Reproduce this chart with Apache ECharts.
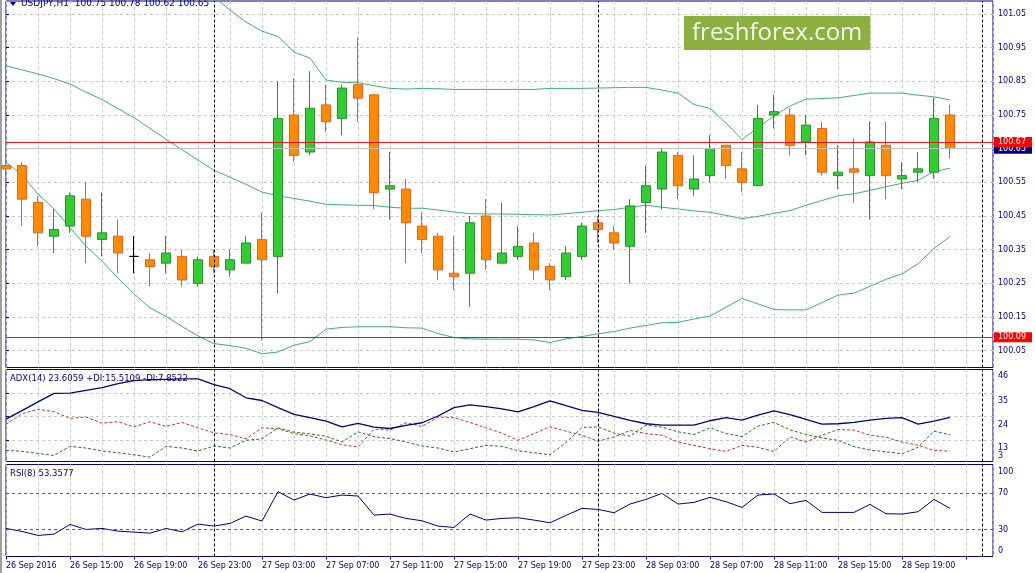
<!DOCTYPE html>
<html><head><meta charset="utf-8">
<script src="https://cdn.jsdelivr.net/npm/echarts@6/dist/echarts.min.js"></script>
<style>html,body{margin:0;padding:0;background:#fff}#c{width:1035px;height:573px}</style>
</head><body><div id="c"></div>
<script>
const symbolName = 'USDJPY,H1';
const timeLabels = ['26 Sep 2016','26 Sep 15:00','26 Sep 19:00','26 Sep 23:00','27 Sep 03:00','27 Sep 07:00','27 Sep 11:00','27 Sep 15:00','27 Sep 19:00','27 Sep 23:00','28 Sep 03:00','28 Sep 07:00','28 Sep 11:00','28 Sep 15:00','28 Sep 19:00'];
const open = [100.60,100.60,100.49,100.39,100.42,100.50,100.38,100.39,100.33,100.32,
  100.31,100.33,100.25,100.33,100.29,100.31,100.38,100.33,100.75,100.64,
  100.78,100.74,100.84,100.81,100.53,100.53,100.42,100.39,100.28,100.28,
  100.45,100.31,100.33,100.37,100.30,100.27,100.33,100.43,100.40,100.36,
  100.49,100.53,100.63,100.53,100.57,100.66,100.59,100.54,100.75,100.75,
  100.67,100.71,100.57,100.59,100.57,100.66,100.56,100.58,100.58,100.75];
const close = [100.59,100.50,100.40,100.41,100.51,100.39,100.40,100.34,100.33,100.30,
  100.34,100.26,100.32,100.30,100.32,100.37,100.32,100.74,100.63,100.77,
  100.73,100.83,100.80,100.52,100.54,100.43,100.38,100.29,100.27,100.43,
  100.32,100.34,100.36,100.29,100.26,100.34,100.42,100.41,100.37,100.48,
  100.54,100.64,100.54,100.56,100.65,100.60,100.55,100.74,100.76,100.66,
  100.72,100.58,100.58,100.58,100.67,100.57,100.57,100.59,100.74,100.65];
const high = [100.64,100.61,100.51,100.47,100.52,100.55,100.52,100.44,100.39,100.34,
  100.39,100.35,100.33,100.35,100.35,100.39,100.46,100.85,100.86,100.88,
  100.84,100.84,100.98,100.81,100.64,100.56,100.46,100.40,100.39,100.45,
  100.50,100.49,100.42,100.40,100.31,100.36,100.43,100.45,100.42,100.50,
  100.60,100.65,100.64,100.63,100.69,100.66,100.64,100.78,100.81,100.77,
  100.75,100.73,100.66,100.68,100.73,100.73,100.61,100.64,100.80,100.78];
const low = [100.53,100.42,100.36,100.34,100.40,100.31,100.33,100.28,100.28,100.24,
  100.28,100.24,100.24,100.28,100.27,100.31,100.08,100.22,100.61,100.63,
  100.70,100.69,100.73,100.47,100.44,100.31,100.34,100.26,100.23,100.18,
  100.29,100.31,100.32,100.26,100.23,100.26,100.32,100.37,100.35,100.25,
  100.40,100.47,100.50,100.51,100.55,100.56,100.52,100.54,100.71,100.63,
  100.63,100.57,100.53,100.49,100.44,100.50,100.53,100.55,100.56,100.62];
const bbUpper = [101.183,101.196,101.228,101.243,101.270,101.276,101.276,101.273,101.264,101.243,
  101.204,101.172,101.136,101.100,101.062,101.026,100.999,100.983,100.937,100.919,
  100.854,100.847,100.846,100.837,100.829,100.827,100.829,100.828,100.826,100.826,
  100.826,100.826,100.826,100.826,100.829,100.829,100.829,100.830,100.831,100.832,
  100.832,100.824,100.815,100.781,100.770,100.726,100.677,100.713,100.747,100.777,
  100.797,100.799,100.801,100.808,100.815,100.815,100.815,100.809,100.804,100.795];
const bbMiddle = [100.896,100.884,100.872,100.858,100.842,100.818,100.796,100.769,100.742,100.710,
  100.678,100.647,100.616,100.586,100.565,100.544,100.521,100.510,100.502,100.494,
  100.485,100.483,100.482,100.481,100.476,100.473,100.473,100.468,100.462,100.457,
  100.456,100.456,100.455,100.454,100.453,100.457,100.461,100.466,100.469,100.476,
  100.482,100.476,100.471,100.465,100.461,100.452,100.442,100.449,100.458,100.466,
  100.482,100.496,100.510,100.516,100.526,100.537,100.547,100.556,100.582,100.592];
const bbLower = [100.610,100.572,100.515,100.471,100.415,100.361,100.316,100.266,100.219,100.177,
  100.152,100.122,100.094,100.071,100.065,100.057,100.041,100.046,100.066,100.077,
  100.114,100.119,100.121,100.121,100.121,100.118,100.117,100.101,100.089,100.085,
  100.084,100.084,100.084,100.082,100.074,100.085,100.092,100.100,100.107,100.117,
  100.125,100.133,100.134,100.144,100.153,100.179,100.205,100.189,100.172,100.171,
  100.171,100.193,100.215,100.221,100.241,100.262,100.278,100.308,100.354,100.389];
const adx = [22.84,26.78,30.88,34.82,34.97,36.23,37.49,39.38,40.80,41.27,
  41.43,41.59,41.59,38.91,37.02,32.77,31.51,28.20,25.05,23.47,
  21.90,19.22,20.79,19.06,18.43,19.85,21.11,24.26,28.20,29.46,
  28.67,27.57,26.15,28.67,31.35,29.14,26.94,25.99,24.10,22.21,
  20.64,20.01,20.01,20.01,22.05,23.47,22.37,24.73,26.62,24.89,
  22.68,20.48,20.64,21.27,22.37,23.16,23.47,20.48,21.90,23.61];
const plusDI = [8.19,7.72,6.77,5.83,10.08,9.29,7.88,7.09,6.14,5.04,
  10.08,9.29,7.88,10.24,9.29,12.92,13.55,18.75,16.70,15.91,
  14.81,12.13,16.86,14.65,13.71,12.13,10.24,9.29,7.40,8.98,
  10.56,10.08,8.03,7.09,6.14,11.82,18.90,19.22,16.23,14.81,
  20.01,19.06,16.86,15.60,18.75,16.07,14.65,19.54,21.27,17.80,
  15.60,14.02,12.92,9.93,8.35,7.56,6.62,9.61,17.17,15.51];
const minusDI = [20.32,25.36,27.41,26.31,23.16,23.79,20.95,21.58,19.22,21.58,
  19.38,21.27,18.75,16.38,15.60,13.55,18.75,18.27,16.07,14.97,
  13.08,10.87,9.77,18.12,17.64,21.11,19.38,23.79,23.47,21.27,
  18.75,16.23,12.92,16.07,19.22,17.17,15.28,12.45,14.50,17.49,
  16.07,15.28,12.13,10.56,8.98,7.72,10.56,9.61,7.72,14.50,
  12.13,15.28,17.96,17.64,15.28,14.34,12.13,10.56,8.19,7.85];
const rsi = [31.11,27.78,23.34,24.82,35.56,30.00,31.11,28.15,27.04,25.93,
  31.11,27.41,35.93,33.71,36.67,44.82,39.26,71.85,62.60,69.26,
  65.19,68.15,67.04,45.93,47.04,42.23,39.63,33.71,32.23,47.04,
  40.37,42.23,42.97,40.37,37.41,45.55,53.34,52.23,48.52,58.15,
  63.34,70.00,58.15,60.00,65.56,60.74,54.45,68.15,69.26,58.52,
  62.23,48.89,48.89,48.89,57.78,47.41,47.04,49.63,63.34,53.36];
const priceTicks = [100.05,100.15,100.25,100.35,100.45,100.55,100.65,100.75,100.85,100.95,101.05];
const adxTicksUpper = [13,24,35,46];
const adxTicksLower = [3];
const adxGrid = [13,24,35];
const rsiTicks = [0,30,70,100];
const rsiLevels = [30,70];
const supportLevel = 100.09;
const resistanceLevel = 100.67;
const lastPrice = 100.65;
const daySeparators = [13,37,61];
const adxText = 'ADX(14) 23.6059 +DI:15.5109 -DI:7.8522';
const rsiText = 'RSI(8) 53.3577';
const watermark = 'freshforex.com';

const N = open.length;
const idx = open.map((_, i) => i);
const L = N - 1;
const candleData = idx.map(i => {
  const item = { value: [i, open[i], close[i], low[i], high[i]] };
  if (open[i] === close[i]) item.itemStyle = { borderColor: '#000000', borderColor0: '#000000', borderColorDoji: '#000000' };
  return item;
});
const pair = arr => idx.map(i => [i, arr[i]]);
const XMAX = 61.6875;
const font = 'DejaVu Sans';
const navy = '#000080';
const levelRed = '#e8141b';
const gridLine = { color: '#c8c8c8', type: [3, 3], width: 1 };
const sepLines = daySeparators.map(v => ({ xAxis: v, lineStyle: { color: '#000040', type: [3, 2], width: 1 }, label: { show: false } }));
const lbl = { fontSize: 8, fontFamily: font, color: navy };

function xAxisFor(gi, showLabels) {
  return {
    type: 'value', gridIndex: gi, min: 0, max: XMAX, interval: 4,
    axisLine: { show: false },
    axisTick: { show: showLabels, length: 3, lineStyle: { color: navy } },
    axisLabel: showLabels ? Object.assign({ show: true, align: 'left', margin: 5, showMaxLabel: false, showMinLabel: true, hideOverlap: false,
      formatter: v => timeLabels[Math.round(v / 4)] || '' }, lbl) : { show: false },
    splitLine: { show: true, lineStyle: gridLine },
    minorTick: { show: false, splitNumber: 2 },
    minorSplitLine: { show: true, lineStyle: gridLine }
  };
}
const gridBase = { left: 6, width: 987, show: true, borderColor: navy, borderWidth: 1, backgroundColor: 'transparent' };
const tag = (text, bg) => ({ show: true, position: 'end', distance: 1, formatter: text, backgroundColor: bg, color: '#ffffff', padding: [1, 6, 0, 4], lineHeight: 9, fontSize: 8, fontFamily: font });
const levelMark = v => ({ yAxis: v, lineStyle: { color: levelRed, type: 'solid', width: 1 }, label: tag(v.toFixed(2), '#ff0000') });

const lastOHLC = [open[L], high[L], low[L], close[L]].map(v => v.toFixed(2)).join(' ');
const titleStyle = { fontSize: 9, fontFamily: font, color: navy, fontWeight: 'normal' };

const option = {
  animation: false,
  backgroundColor: '#ffffff',
  title: [
    { text: symbolName + '  ' + lastOHLC, left: 21, top: -1, padding: 0, textStyle: titleStyle },
    { text: adxText, left: 10, top: 374, padding: 0, textStyle: Object.assign({}, titleStyle, { fontSize: 8.5 }) },
    { text: rsiText, left: 10, top: 469, padding: 0, textStyle: Object.assign({}, titleStyle, { fontSize: 8.5 }) },
    { text: watermark, left: 684, top: 16, padding: [3, 8, 3, 8], backgroundColor: '#8cb040', textStyle: { fontSize: 24, lineHeight: 28, fontFamily: 'Open Sans', color: '#f6f9ee', fontWeight: 'normal' } }
  ],
  graphic: [
    { type: 'rect', shape: { x: 0, y: 0, width: 2, height: 573 }, style: { fill: '#a0a0a0' }, silent: true },
    { type: 'polygon', shape: { points: [[10, 2], [16, 2], [13, 6]] }, style: { fill: navy }, silent: true }
  ],
  grid: [
    Object.assign({ top: 1, height: 366.5 }, gridBase),
    Object.assign({ top: 369.5, height: 92 }, gridBase),
    Object.assign({ top: 464.5, height: 92 }, gridBase)
  ],
  xAxis: [xAxisFor(0, false), xAxisFor(1, false), xAxisFor(2, true)],
  yAxis: [
    { type: 'value', gridIndex: 0, position: 'right', min: 100.0, max: 101.0886,
      axisLine: { show: false },
      axisTick: { show: true, length: 3, customValues: priceTicks, lineStyle: { color: navy } },
      axisLabel: Object.assign({ customValues: priceTicks, margin: 5, hideOverlap: false, formatter: v => v.toFixed(2) }, lbl),
      splitLine: { show: true, customValues: priceTicks, lineStyle: gridLine } },
    { type: 'value', gridIndex: 1, position: 'right', min: 3, max: 46,
      axisLine: { show: false },
      axisTick: { show: true, length: 3, customValues: adxGrid, lineStyle: { color: navy } },
      axisLabel: Object.assign({ customValues: adxTicksUpper, margin: 5, showMinLabel: true, showMaxLabel: true, hideOverlap: false,
        formatter: v => v === 46 ? '{t|46}' : '{d|' + v + '}',
        rich: { t: Object.assign({ padding: [13, 0, 0, 0] }, lbl), d: Object.assign({ padding: [16, 0, 0, 0] }, lbl) } }, lbl),
      splitLine: { show: true, customValues: adxGrid, lineStyle: gridLine } },
    { type: 'value', gridIndex: 2, position: 'right', min: 0, max: 102,
      axisLine: { show: false },
      axisTick: { show: true, length: 3, customValues: rsiLevels, lineStyle: { color: navy } },
      axisLabel: Object.assign({ customValues: rsiTicks, margin: 5, showMinLabel: true, showMaxLabel: true, hideOverlap: false,
        formatter: v => v === 100 ? '{t|100}' : (v === 0 ? '{b|0}' : '{m|' + v + '}'),
        rich: { t: Object.assign({ padding: [11, 0, 0, 0] }, lbl), b: Object.assign({ padding: [0, 0, 12, 0] }, lbl), m: Object.assign({}, lbl) } }, lbl),
      splitLine: { show: false } },
    { type: 'value', gridIndex: 1, position: 'right', min: 3, max: 46,
      axisLine: { show: false },
      axisTick: { show: false },
      axisLabel: Object.assign({ customValues: adxTicksLower, margin: 5, showMinLabel: true, showMaxLabel: true, hideOverlap: false,
        formatter: v => '{b|' + v + '}',
        rich: { b: Object.assign({ padding: [0, 0, 12, 0] }, lbl) } }, lbl),
      splitLine: { show: false } }
  ],
  series: [
    { type: 'candlestick', xAxisIndex: 0, yAxisIndex: 0, data: candleData, encode: { x: 0, y: [1, 2, 3, 4] }, barWidth: 9, clip: true,
      itemStyle: { color: '#32cd32', color0: '#ff8c00', borderColor: '#23932a', borderColor0: '#e8601c', borderColorDoji: '#000000', borderWidth: 1 },
      markLine: { silent: true, symbol: ['none', 'none'], label: { show: false },
        data: sepLines.concat([{ yAxis: lastPrice, lineStyle: { color: '#c0c0c0', type: 'solid', width: 1 }, label: tag(lastPrice.toFixed(2), '#000080') }, levelMark(resistanceLevel)]) }, z: 3 },
    { type: 'line', xAxisIndex: 0, yAxisIndex: 0, data: pair(bbUpper), symbol: 'none', lineStyle: { color: '#3cb371', width: 1 }, z: 2 },
    { type: 'line', xAxisIndex: 0, yAxisIndex: 0, data: pair(bbMiddle), symbol: 'none', lineStyle: { color: '#3cb371', width: 1 }, z: 2 },
    { type: 'line', xAxisIndex: 0, yAxisIndex: 0, data: pair(bbLower), symbol: 'none', lineStyle: { color: '#3cb371', width: 1 }, z: 2,
      markLine: { silent: true, symbol: ['none', 'none'], label: { show: false }, data: [levelMark(supportLevel)] } },
    { type: 'line', xAxisIndex: 1, yAxisIndex: 1, data: pair(adx), symbol: 'none', lineStyle: { color: '#000080', width: 1.3 }, z: 3,
      markLine: { silent: true, symbol: ['none', 'none'], label: { show: false }, data: sepLines } },
    { type: 'line', xAxisIndex: 1, yAxisIndex: 1, data: pair(plusDI), symbol: 'none', lineStyle: { color: '#1e7b1e', width: 1, type: [3, 2] }, z: 2 },
    { type: 'line', xAxisIndex: 1, yAxisIndex: 1, data: pair(minusDI), symbol: 'none', lineStyle: { color: '#c0392b', width: 1, type: [3, 2] }, z: 2 },
    { type: 'line', xAxisIndex: 2, yAxisIndex: 2, data: pair(rsi), symbol: 'none', lineStyle: { color: '#000080', width: 1 }, z: 3,
      markLine: { silent: true, symbol: ['none', 'none'], label: { show: false },
        data: sepLines.concat(rsiLevels.map(v => ({ yAxis: v, lineStyle: { color: '#d42a2a', type: [3, 3], width: 1 } }))) } }
  ]
};
const chart = echarts.init(document.getElementById('c'), null, { renderer: 'canvas' });
chart.setOption(option);
</script></body></html>
